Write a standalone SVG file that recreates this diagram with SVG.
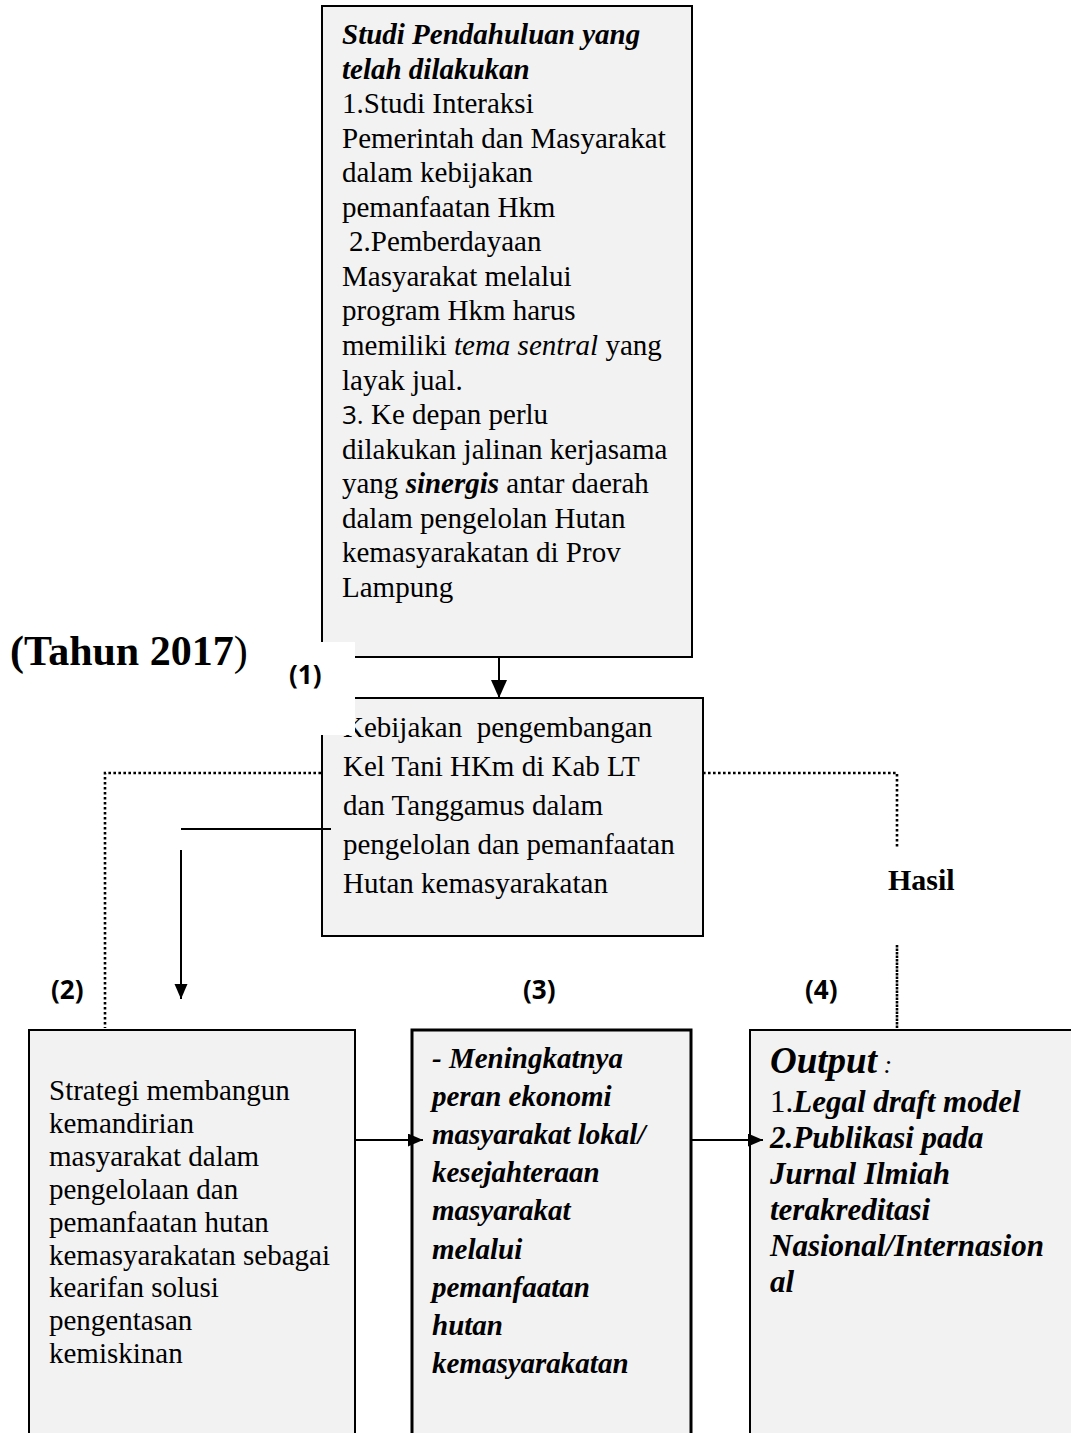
<svg xmlns="http://www.w3.org/2000/svg" width="1071" height="1433" viewBox="0 0 1071 1433">
<style>
.box{fill:#f2f2f2;stroke:#000;stroke-width:2}
.thick{stroke-width:3}
.t{font-family:"Liberation Serif","Times New Roman",serif;font-size:29px;fill:#000}
.bi{font-weight:bold;font-style:italic}
.b{font-weight:bold}
.i{font-style:italic}
.lbl{font-family:"Open Sans","Liberation Sans",sans-serif;font-weight:bold;font-size:26px;fill:#000}
.ln{fill:none;stroke:#000;stroke-width:2}
.dot{fill:none;stroke:#000;stroke-width:2.6;stroke-dasharray:2.6 2.4}
</style>
<defs>
<marker id="ah" markerUnits="userSpaceOnUse" markerWidth="16" markerHeight="14" refX="15" refY="6.5" orient="auto">
<path d="M0,0 L15,6.5 L0,13 Z" fill="#000"/>
</marker>
<marker id="ahv" markerUnits="userSpaceOnUse" markerWidth="20" markerHeight="20" refX="18" refY="8" orient="auto">
<path d="M0,0 L18,8 L0,16 Z" fill="#000"/>
</marker>
</defs>
<g id="node-studi">
<rect class="box" x="322" y="6" width="370" height="651"/>
<text class="t" x="342" y="44">
<tspan class="bi" x="342">Studi Pendahuluan yang</tspan>
<tspan class="bi" x="342" dy="34.56">telah dilakukan</tspan>
<tspan x="342" dy="34.56">1.Studi Interaksi</tspan>
<tspan x="342" dy="34.56">Pemerintah dan Masyarakat</tspan>
<tspan x="342" dy="34.56">dalam kebijakan</tspan>
<tspan x="342" dy="34.56">pemanfaatan Hkm</tspan>
<tspan x="349" dy="34.56">2.Pemberdayaan</tspan>
<tspan x="342" dy="34.56">Masyarakat melalui</tspan>
<tspan x="342" dy="34.56">program Hkm harus</tspan>
<tspan x="342" dy="34.56">memiliki <tspan class="i">tema sentral</tspan> yang</tspan>
<tspan x="342" dy="34.56">layak jual.</tspan>
<tspan x="342" dy="34.56"><tspan style="font-family:'Open Sans','Liberation Sans',sans-serif;font-size:26px">3.</tspan> Ke depan perlu</tspan>
<tspan x="342" dy="34.56">dilakukan jalinan kerjasama</tspan>
<tspan x="342" dy="34.56">yang <tspan class="bi">sinergis</tspan> antar daerah</tspan>
<tspan x="342" dy="34.56">dalam pengelolan Hutan</tspan>
<tspan x="342" dy="34.56">kemasyarakatan di Prov</tspan>
<tspan x="342" dy="34.56">Lampung</tspan>
</text>
</g>
<g id="node-kebijakan">
<rect class="box" x="322" y="698" width="381" height="238"/>
<text class="t" x="343" y="737" xml:space="preserve"><tspan x="343">Kebijakan  pengembangan</tspan><tspan x="343" dy="39">Kel Tani HKm di Kab LT</tspan><tspan x="343" dy="39">dan Tanggamus dalam</tspan><tspan x="343" dy="39">pengelolan dan pemanfaatan</tspan><tspan x="343" dy="39">Hutan kemasyarakatan</tspan></text>
</g>
<g id="label-1">
<rect x="285" y="642" width="70" height="93" fill="#fff"/>
<text class="lbl" x="289" y="684">(1)</text>
</g>
<g id="label-tahun">
<text class="t b" x="10" y="665" style="font-size:42px">(Tahun 2017<tspan style="font-weight:normal">)</tspan></text>
</g>
<g id="label-hasil">
<text class="t b" x="888" y="890" style="font-size:30px">Hasil</text>
</g>
<g id="label-2"><text class="lbl" x="51" y="999">(2)</text></g>
<g id="label-3"><text class="lbl" x="523" y="999">(3)</text></g>
<g id="label-4"><text class="lbl" x="805" y="999">(4)</text></g>
<g id="node-strategi">
<rect class="box" x="29" y="1030" width="326" height="420"/>
<text class="t" x="49" y="1100">
<tspan x="49">Strategi membangun</tspan>
<tspan x="49" dy="32.9">kemandirian</tspan>
<tspan x="49" dy="32.9">masyarakat dalam</tspan>
<tspan x="49" dy="32.9">pengelolaan dan</tspan>
<tspan x="49" dy="32.9">pemanfaatan hutan</tspan>
<tspan x="49" dy="32.9">kemasyarakatan sebagai</tspan>
<tspan x="49" dy="32.9">kearifan solusi</tspan>
<tspan x="49" dy="32.9">pengentasan</tspan>
<tspan x="49" dy="32.9">kemiskinan</tspan>
</text>
</g>
<g id="node-meningkatnya">
<rect class="box thick" x="412" y="1030" width="279" height="420"/>
<text class="t bi" x="432" y="1068">
<tspan x="432">- Meningkatnya</tspan>
<tspan x="432" dy="38.1">peran ekonomi</tspan>
<tspan x="432" dy="38.1">masyarakat lokal/</tspan>
<tspan x="432" dy="38.1">kesejahteraan</tspan>
<tspan x="432" dy="38.1">masyarakat</tspan>
<tspan x="432" dy="38.1">melalui</tspan>
<tspan x="432" dy="38.1">pemanfaatan</tspan>
<tspan x="432" dy="38.1">hutan</tspan>
<tspan x="432" dy="38.1">kemasyarakatan</tspan>
</text>
</g>
<g id="node-output">
<rect class="box" x="750" y="1030" width="340" height="420"/>
<text class="t bi" x="770" y="1073" style="font-size:31px">
<tspan x="770" style="font-size:37px">Output</tspan><tspan style="font-weight:normal;font-size:26px"> :</tspan>
<tspan x="770" dy="39"><tspan style="font-weight:normal;font-style:normal">1.</tspan>Legal draft model</tspan>
<tspan x="770" dy="36">2.Publikasi pada</tspan>
<tspan x="770" dy="36">Jurnal Ilmiah</tspan>
<tspan x="770" dy="36">terakreditasi</tspan>
<tspan x="770" dy="36">Nasional/Internasion</tspan>
<tspan x="770" dy="36">al</tspan>
</text>
</g>
<g id="connectors">
<line class="ln" x1="499" y1="657" x2="499" y2="698" marker-end="url(#ahv)"/>
<polyline class="dot" points="321,773 105,773 105,1028"/>
<polyline class="dot" points="703,773 897,773 897,847"/>
<line class="dot" x1="897" y1="945" x2="897" y2="1028" style="stroke-dasharray:2.5 1"/>
<line class="ln" x1="181" y1="829" x2="331" y2="829"/>
<line class="ln" x1="181" y1="850" x2="181" y2="999" marker-end="url(#ah)"/>
<line class="ln" x1="355" y1="1140" x2="423" y2="1140" marker-end="url(#ah)"/>
<line class="ln" x1="691" y1="1140" x2="763" y2="1140" marker-end="url(#ah)"/>
</g>
</svg>
